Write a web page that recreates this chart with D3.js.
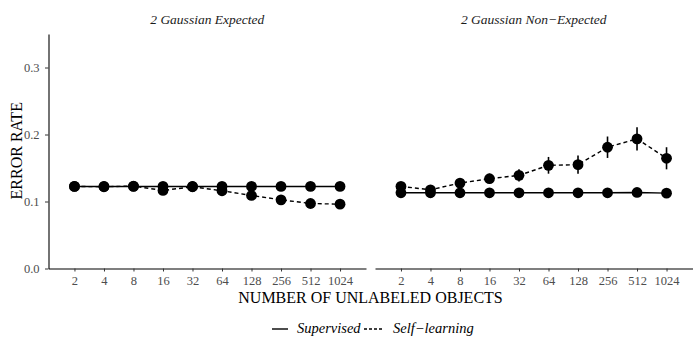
<!DOCTYPE html>
<html>
<head>
<meta charset="utf-8">
<script src="https://cdn.jsdelivr.net/npm/d3@7"></script>
<style>
  body { margin: 0; background: #fff; }
  text { font-family: "Liberation Serif", "DejaVu Serif", serif; }
</style>
</head>
<body>
<div id="chart"></div>
<script>
// Data
const sizes = ["2", "4", "8", "16", "32", "64", "128", "256", "512", "1024"];
const panels = ["2 Gaussian Expected", "2 Gaussian Non\u2212Expected"];

const supExpected = [0.1225, 0.1225, 0.1225, 0.1225, 0.1225, 0.1225, 0.1225, 0.1225, 0.1225, 0.1225];
const supExpectedErr = [0.002, 0.002, 0.002, 0.002, 0.002, 0.002, 0.002, 0.002, 0.002, 0.002];
const selfExpected = [0.1225, 0.122, 0.123, 0.1165, 0.122, 0.116, 0.109, 0.1025, 0.097, 0.096];
const selfExpectedErr = [0.002, 0.002, 0.002, 0.003, 0.002, 0.003, 0.003, 0.003, 0.003, 0.003];

const supNonExpected = [0.113, 0.113, 0.113, 0.113, 0.113, 0.113, 0.113, 0.113, 0.1135, 0.1125];
const supNonExpectedErr = [0.002, 0.002, 0.002, 0.002, 0.002, 0.002, 0.002, 0.002, 0.002, 0.002];
const selfNonExpected = [0.1225, 0.1175, 0.1275, 0.134, 0.139, 0.154, 0.155, 0.181, 0.1935, 0.1645];
const selfNonExpectedErr = [0.004, 0.004, 0.006, 0.0075, 0.009, 0.0125, 0.0135, 0.016, 0.0175, 0.0165];

const yTicks = [0.0, 0.1, 0.2, 0.3];

const panelData = [
  { title: panels[0], series: [
    { name: "Supervised", values: supExpected, err: supExpectedErr, dash: null },
    { name: "Self-learning", values: selfExpected, err: selfExpectedErr, dash: "4,3" }
  ]},
  { title: panels[1], series: [
    { name: "Supervised", values: supNonExpected, err: supNonExpectedErr, dash: null },
    { name: "Self-learning", values: selfNonExpected, err: selfNonExpectedErr, dash: "4,3" }
  ]}
];

// Dimensions
const fullWidth = 700, fullHeight = 350;
const plotTop = 33, plotBottom = 268.5;
const panelX = [48.5, 375];
const panelW = 317.5;

const svg = d3.select("#chart").append("svg")
  .attr("width", fullWidth)
  .attr("height", fullHeight);

const y = d3.scaleLinear().domain([0, 0.35]).range([plotBottom, plotBottom - 0.35 * 670]);

panelData.forEach((p, i) => {
  const x = d3.scalePoint()
    .domain(sizes)
    .range([0, panelW])
    .padding(0.88);

  const g = svg.append("g").attr("transform", `translate(${panelX[i]},0)`);

  // Facet title
  g.append("text")
    .attr("x", panelW / 2)
    .attr("y", 24)
    .attr("text-anchor", "middle")
    .style("font-size", "13.5px")
    .style("font-style", "italic")
    .style("fill", "#1a1a1a")
    .text(p.title);

  // x axis
  const xa = g.append("g")
    .attr("transform", `translate(0,${plotBottom})`)
    .call(d3.axisBottom(x).tickSize(3).tickPadding(5).tickSizeOuter(0));
  xa.select(".domain").attr("stroke", "#000").attr("stroke-width", 1.1);
  xa.selectAll(".tick line").attr("stroke", "#333");
  xa.selectAll("text")
    .style("font-family", "'Liberation Serif', serif")
    .style("font-size", "12.5px")
    .style("fill", "#4d4d4d");

  // y axis only for first panel
  if (i === 0) {
    const ya = g.append("g")
      .call(d3.axisLeft(y).tickValues(yTicks).tickFormat(d3.format(".1f")).tickSize(3.5).tickPadding(5.5).tickSizeOuter(0));
    ya.select(".domain").attr("stroke", "#000").attr("stroke-width", 1.1);
    ya.selectAll(".tick line").attr("stroke", "#333");
    ya.selectAll("text")
      .style("font-family", "'Liberation Serif', serif")
      .style("font-size", "12.5px")
      .style("fill", "#4d4d4d");
  }

  p.series.forEach(s => {
    const pts = sizes.map((k, j) => ({ k, v: s.values[j], e: s.err[j] }));
    const line = d3.line().x(d => x(d.k)).y(d => y(d.v));

    g.append("path")
      .datum(pts)
      .attr("fill", "none")
      .attr("stroke", "#000")
      .attr("stroke-width", 1.4)
      .attr("stroke-dasharray", s.dash)
      .attr("d", line);

    g.selectAll(null)
      .data(pts)
      .enter()
      .append("line")
      .attr("x1", d => x(d.k))
      .attr("x2", d => x(d.k))
      .attr("y1", d => y(d.v - d.e))
      .attr("y2", d => y(d.v + d.e))
      .attr("stroke", "#000")
      .attr("stroke-width", 1.6);

    g.selectAll(null)
      .data(pts)
      .enter()
      .append("circle")
      .attr("cx", d => x(d.k))
      .attr("cy", d => y(d.v))
      .attr("r", 5.4)
      .attr("fill", "#000");
  });
});

// Y-axis label
svg.append("text")
  .attr("transform", `translate(22,${(plotTop + plotBottom) / 2}) rotate(-90)`)
  .attr("text-anchor", "middle")
  .style("font-size", "16px")
  .text("ERROR RATE");

// X-axis label
svg.append("text")
  .attr("x", (48.5 + 692.5) / 2)
  .attr("y", 303)
  .attr("text-anchor", "middle")
  .style("font-size", "16px")
  .text("NUMBER OF UNLABELED OBJECTS");

// Legend
const legend = svg.append("g").attr("transform", "translate(272,333)");
legend.append("line")
  .attr("x1", 0).attr("x2", 16).attr("y1", -4).attr("y2", -4)
  .attr("stroke", "#000").attr("stroke-width", 1.4);
legend.append("text")
  .attr("x", 25).attr("y", 0)
  .style("font-size", "14.5px").style("font-style", "italic")
  .text("Supervised");
legend.append("line")
  .attr("x1", 92).attr("x2", 111).attr("y1", -4).attr("y2", -4)
  .attr("stroke", "#000").attr("stroke-width", 1.4)
  .attr("stroke-dasharray", "3,2");
legend.append("text")
  .attr("x", 121).attr("y", 0)
  .style("font-size", "14.5px").style("font-style", "italic")
  .text("Self\u2212learning");
</script>
</body>
</html>
